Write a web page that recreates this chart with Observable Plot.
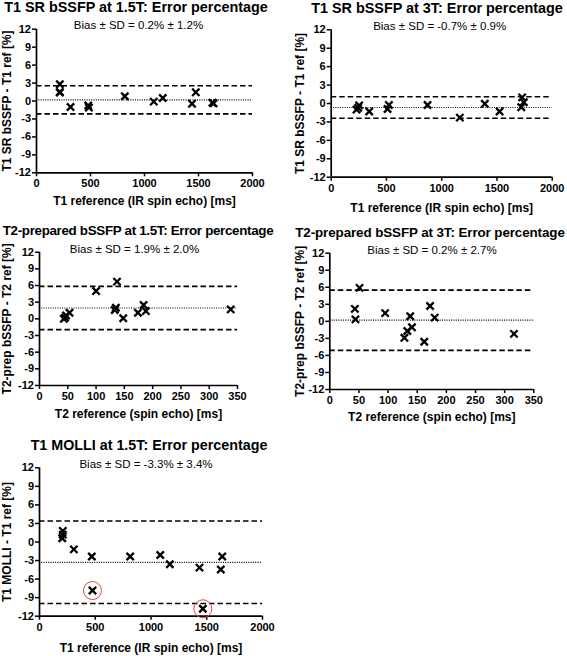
<!DOCTYPE html>
<html><head><meta charset="utf-8">
<script src="https://cdn.jsdelivr.net/npm/d3@7"></script>
<script src="https://cdn.jsdelivr.net/npm/@observablehq/plot@0.6"></script>
<style>
html,body{margin:0;padding:0;background:#fff;}
#root{position:relative;width:567px;height:656px;overflow:hidden;font-family:"Liberation Sans",Arial,sans-serif;color:#000;}
.panel{position:absolute;}
.t{position:absolute;white-space:nowrap;transform:translateX(-50%);line-height:1;}
.title{font-weight:bold;}
.sub{font-size:11.5px;}
#root g[aria-label$="tick label"]{font-size:11px;}
</style></head><body><div id="root"></div>
<script>
// ---------- data ----------
const titles = [
  "T1 SR bSSFP at 1.5T: Error percentage",
  "T1 SR bSSFP at 3T: Error percentage",
  "T2-prepared bSSFP at 1.5T: Error percentage",
  "T2-prepared bSSFP at 3T: Error percentage",
  "T1 MOLLI at 1.5T: Error percentage"
];
const subtitles = [
  "Bias ± SD = 0.2% ± 1.2%",
  "Bias ± SD = -0.7% ± 0.9%",
  "Bias ± SD = 1.9% ± 2.0%",
  "Bias ± SD = 0.2% ± 2.7%",
  "Bias ± SD = -3.3% ± 3.4%"
];
const xLabels = [
  "T1 reference (IR spin echo) [ms]",
  "T1 reference (IR spin echo) [ms]",
  "T2 reference (spin echo) [ms]",
  "T2 reference (spin echo) [ms]",
  "T1 reference (IR spin echo) [ms]"
];
const yLabels = [
  "T1 SR bSSFP - T1 ref [%]",
  "T1 SR bSSFP - T1 ref [%]",
  "T2-prep bSSFP - T2 ref [%]",
  "T2-prep bSSFP - T2 ref [%]",
  "T1 MOLLI - T1 ref [%]"
];
const t1Ticks = [0, 500, 1000, 1500, 2000];
const t2Ticks = [0, 50, 100, 150, 200, 250, 300, 350];
const yTicks = [-12, -9, -6, -3, 0, 3, 6, 9, 12];

const srRef15 = [216, 216, 216, 315, 479, 485, 818, 1086, 1169, 1440, 1475, 1629, 1640];
const srErr15 = [2.8, 1.5, 1.4, -1.0, -0.75, -1.1, 0.8, -0.1, 0.5, -0.45, 1.45, -0.3, -0.4];

const srRef3 = [229, 244, 253, 344, 510, 522, 872, 1164, 1390, 1524, 1728, 1743, 1720];
const srErr3 = [-1.0, -0.7, -0.3, -1.3, -0.9, -0.25, -0.25, -2.3, -0.05, -1.3, 1.0, 0.2, -0.6];

const t2Ref15 = [43, 45, 47, 53, 100, 133, 135, 137, 148, 174, 184, 188, 338];
const t2Err15 = [0.0, 0.2, 0.6, 1.1, 5.0, 1.6, 2.0, 6.7, 0.1, 1.1, 2.5, 1.4, 1.7];

const t2Ref3 = [43, 44, 51, 95, 128, 133, 138, 141, 162, 172, 180, 316];
const t2Err3 = [2.2, 0.35, 5.9, 1.45, -2.9, -1.7, 0.9, -1.05, -3.6, 2.7, 0.65, -2.2];

const molliRef = [209, 209, 204, 308, 469, 475, 813, 1083, 1169, 1435, 1465, 1639, 1626];
const molliErr = [1.8, 1.2, 0.6, -1.2, -2.35, -7.85, -2.35, -2.1, -3.6, -4.15, -10.8, -2.35, -4.45];
const molliFlagged = [5, 10];

const biasLine = [0.2, -0.65, 1.95, 0.2, -3.3];
const upperLoA = [2.55, 1.1, 5.85, 5.5, 3.4];
const lowerLoA = [-2.15, -2.4, -1.95, -5.1, -9.95];

// ---------- layout ----------
const refs = [srRef15, srRef3, t2Ref15, t2Ref3, molliRef];
const errs = [srErr15, srErr3, t2Err15, t2Err3, molliErr];
const xTickSets = [t1Ticks, t1Ticks, t2Ticks, t2Ticks, t1Ticks];
const boxes = [
  {left:0,   top:0,   w:280, h:215, ml:36,   mr:28,   mt:28.7, mb:42.7, ly:28,   lx:29.4},
  {left:280, top:0,   w:287, h:215, ml:50.7, mr:15.3, mt:29.3, mb:38.3, ly:30,   lx:31.6},
  {left:0,   top:215, w:280, h:215, ml:39,   mr:43,   mt:36.7, mb:45,   ly:31,   lx:29.3},
  {left:280, top:215, w:287, h:215, ml:49.3, mr:33.7, mt:37.7, mb:41,   ly:28.6, lx:28.3},
  {left:0,   top:430, w:290, h:226, ml:39,   mr:28,   mt:37.3, mb:40.3, ly:31,   lx:32.6}
];
const titleFont = [[14.4, 0], [14.4, 0], [13.4, -0.33], [13.4, -0.1], [14.3, 0]];
const titlePos = [[136, 6.8], [437, 7.8], [138, 231], [430, 232.2], [149, 444.8]];
const subPos = [[138.5, 25.5], [439.7, 27], [134.5, 250], [432, 251], [146, 464.5]];

const root = document.getElementById("root");
const fmt = d => String(d);

boxes.forEach((B, i) => {
  const xs = refs[i], ys = errs[i];
  const idx = d3.range(xs.length);
  const xt = xTickSets[i];
  const xDom = [xt[0], xt[xt.length - 1]];
  const marks = [
    Plot.ruleY([upperLoA[i], lowerLoA[i]], {stroke: "#000", strokeWidth: 1.7, strokeDasharray: "5.5,3"}),
    Plot.ruleY([biasLine[i]], {stroke: "#000", strokeWidth: 1.2, strokeDasharray: "1,1.3"}),
    Plot.axisX({ticks: xt, tickFormat: fmt, tickSize: 4, tickPadding: 2.5, strokeWidth: 1.5,
      label: xLabels[i], labelAnchor: "center", labelOffset: B.lx + 2.8, labelArrow: "none"}),
    Plot.axisY({ticks: yTicks, tickFormat: fmt, tickSize: 4, tickPadding: 1.5, strokeWidth: 1.5,
      label: yLabels[i], labelAnchor: "center", labelOffset: B.ly + 5.6, labelArrow: "none"}),
    Plot.ruleX([xDom[0]], {stroke: "#000", strokeWidth: 1.7}),
    Plot.ruleY([yTicks[0]], {stroke: "#000", strokeWidth: 1.7}),
    Plot.dot(idx, {x: j => xs[j], y: j => ys[j], symbol: "times", r: 3.4, stroke: "#000", strokeWidth: 2.3})
  ];
  if (i === 4) {
    marks.push(Plot.dot(molliFlagged, {x: j => molliRef[j], y: j => molliErr[j], r: 9, stroke: "#e8453c", strokeWidth: 1, fill: "none"}));
  }
  const svg = Plot.plot({
    width: B.w, height: B.h,
    marginLeft: B.ml, marginRight: B.mr, marginTop: B.mt, marginBottom: B.mb,
    style: {fontFamily: "'Liberation Sans', Arial, sans-serif", fontSize: "12px", fontWeight: "bold", color: "#000", background: "transparent", overflow: "visible"},
    x: {domain: xDom},
    y: {domain: [yTicks[0], yTicks[yTicks.length - 1]]},
    marks
  });
  const div = document.createElement("div");
  div.className = "panel";
  div.style.left = B.left + "px";
  div.style.top = B.top + "px";
  div.style.width = B.w + "px";
  div.style.height = B.h + "px";
  div.appendChild(svg);
  root.appendChild(div);

  const [fs, ls] = titleFont[i];
  const t = document.createElement("div");
  t.className = "t title";
  t.textContent = titles[i];
  t.style.fontSize = fs + "px";
  t.style.letterSpacing = ls + "px";
  t.style.left = titlePos[i][0] + "px";
  t.style.top = (titlePos[i][1] - 0.49 * fs) + "px";
  root.appendChild(t);
  const s = document.createElement("div");
  s.className = "t sub";
  s.textContent = subtitles[i];
  s.style.left = subPos[i][0] + "px";
  s.style.top = (subPos[i][1] - 0.49 * 11.5) + "px";
  root.appendChild(s);
});
</script></body></html>
